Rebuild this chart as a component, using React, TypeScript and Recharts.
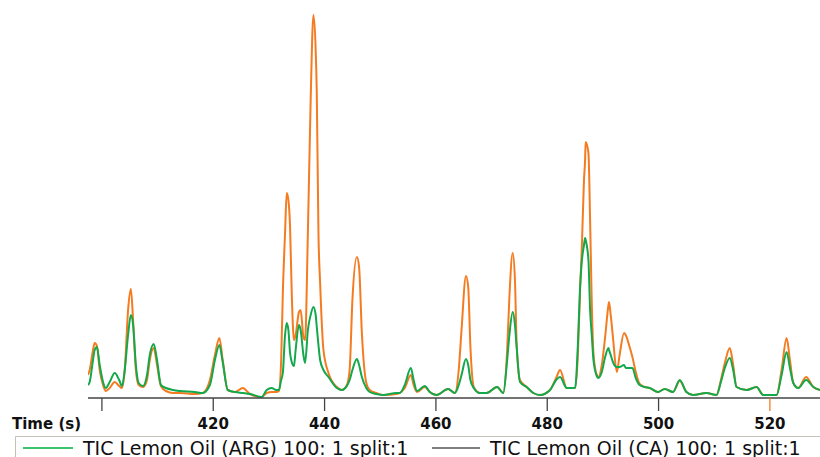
import React from "react";
import { LineChart, Line, XAxis, YAxis } from "recharts";

const times = [397.5, 397.8, 398.4, 398.7, 399.1, 399.6, 400.2, 400.7, 401.4, 402.3, 403.1, 403.6, 404.1, 404.7, 405.2, 405.6, 406.1, 406.6, 407.4, 408.1, 408.6, 409.3, 409.9, 410.6, 411.5, 412.8, 414.0, 416.7, 418.1, 419.4, 420.3, 421.1, 421.7, 422.6, 423.9, 425.3, 426.6, 428.7, 429.6, 430.5, 431.3, 431.8, 432.2, 432.5, 432.9, 433.2, 433.5, 433.8, 434.1, 434.5, 434.8, 435.4, 435.7, 436.2, 436.5, 437.0, 437.5, 438.0, 438.4, 438.6, 438.9, 439.2, 439.8, 440.7, 442.2, 443.1, 444.0, 444.5, 445.0, 445.8, 446.2, 446.7, 447.5, 448.1, 449.3, 450.5, 452.9, 453.5, 454.4, 455.5, 456.0, 456.6, 458.0, 458.9, 460.1, 462.2, 463.4, 464.1, 464.6, 465.4, 465.8, 466.2, 466.8, 467.9, 469.1, 471.0, 472.1, 472.8, 473.2, 473.8, 474.2, 474.5, 475.1, 476.3, 477.5, 478.7, 480.5, 481.6, 482.3, 483.5, 485.0, 485.5, 485.9, 486.2, 486.6, 486.8, 486.9, 487.4, 487.7, 488.0, 488.3, 488.9, 489.2, 489.8, 490.4, 491.0, 491.1, 491.4, 491.8, 492.5, 493.0, 493.8, 494.1, 494.8, 495.3, 495.9, 496.6, 497.5, 498.4, 499.9, 501.1, 502.6, 503.8, 505.0, 506.2, 508.6, 510.4, 511.2, 511.9, 512.8, 513.4, 514.0, 515.8, 517.6, 518.8, 521.2, 522.1, 523.0, 523.6, 524.2, 525.1, 526.5, 527.8, 529.0];

const caValues = [22, 27, 47, 54, 51, 27, 12, 6, 9, 15, 11, 9, 27, 87, 108, 77, 27, 12, 10, 17, 37, 49, 32, 11, 6, 4, 4, 3, 4, 17, 42, 59, 37, 7, 5, 9, 3, 0, 4, 5, 5, 6, 37, 104, 164, 204, 197, 170, 104, 57, 62, 85, 87, 60, 57, 164, 297, 382, 347, 304, 164, 114, 47, 24, 10, 7, 12, 27, 97, 140, 130, 64, 14, 7, 4, 2, 3, 4, 9, 22, 12, 5, 10, 5, 2, 8, 4, 27, 67, 121, 110, 50, 10, 4, 4, 10, 4, 47, 100, 144, 117, 54, 17, 10, 4, 2, 7, 19, 27, 9, 9, 42, 107, 147, 217, 237, 255, 244, 177, 94, 44, 22, 20, 32, 60, 92, 95, 82, 60, 25, 42, 64, 62, 50, 40, 25, 13, 10, 9, 5, 8, 5, 16, 5, 2, 4, 2, 17, 34, 49, 32, 10, 7, 10, 2, 2, 27, 59, 37, 14, 9, 20, 10, 7];

const argValues = [12, 15, 37, 47, 50, 32, 15, 9, 15, 24, 17, 11, 27, 62, 82, 72, 32, 14, 11, 22, 42, 53, 37, 12, 9, 7, 6, 5, 4, 12, 37, 52, 35, 7, 5, 4, 3, 0, 7, 9, 7, 7, 17, 24, 62, 74, 67, 44, 35, 31, 47, 72, 67, 42, 34, 67, 82, 90, 82, 70, 52, 37, 27, 20, 9, 7, 11, 17, 27, 38, 32, 20, 9, 5, 3, 2, 4, 4, 12, 29, 17, 6, 11, 5, 2, 8, 4, 12, 22, 38, 32, 17, 9, 4, 4, 10, 4, 37, 62, 85, 72, 50, 15, 10, 4, 2, 7, 17, 20, 9, 9, 52, 110, 135, 152, 159, 157, 137, 87, 62, 37, 21, 19, 25, 40, 49, 47, 42, 35, 30, 30, 32, 29, 29, 29, 19, 12, 10, 9, 5, 8, 5, 17, 5, 2, 4, 2, 15, 29, 39, 27, 10, 7, 10, 2, 2, 22, 45, 29, 14, 9, 17, 10, 7];

const xTicks = [400, 420, 440, 460, 480, 500, 520];
const seriesNames = ["TIC Lemon Oil (ARG) 100: 1 split:1", "TIC Lemon Oil (CA) 100: 1 split:1"];
const axisTitle = "Time (s)";

const data = times.map((t, i) => ({ t, arg: argValues[i], ca: caValues[i] }));

const ORANGE = "#f47b20";
const GREEN = "#13a84b";

const Tick = (props: any) => {
  const { x, y, payload } = props;
  const v = payload.value;
  return (
    <g>
      <line x1={x} x2={x} y1={y} y2={y + 13} stroke={v === 520 ? ORANGE : "#444"} strokeWidth={1.3} />
      {v !== 400 && (
        <text x={x} y={y + 30.5} textAnchor="middle" fontFamily="DejaVu Sans" fontWeight="bold" fontSize={15} fill="#111">
          {v}
        </text>
      )}
    </g>
  );
};

export default function App() {
  return (
    <div style={{ position: "absolute", left: 0, top: 0, width: 820, height: 457, background: "#fff", overflow: "hidden" }}>
      <LineChart width={820} height={457} data={data} margin={{ top: 12, right: 0, bottom: 19, left: 88 }}>
        <XAxis
          dataKey="t"
          type="number"
          domain={[397.5, 529]}
          allowDataOverflow
          ticks={xTicks}
          tick={<Tick />}
          tickLine={false}
          tickSize={0}
          tickMargin={0}
          height={40}
          axisLine={{ stroke: "#444", strokeWidth: 1.3 }}
        />
        <YAxis hide domain={[-1, 385]} allowDataOverflow />
        <Line dataKey="ca" type="monotone" stroke={ORANGE} strokeWidth={2} dot={false} isAnimationActive={false} />
        <Line dataKey="arg" type="monotone" stroke={GREEN} strokeWidth={2} dot={false} isAnimationActive={false} />
      </LineChart>
      <svg width={820} height={457} style={{ position: "absolute", left: 0, top: 0, pointerEvents: "none" }}>
        <text x={12} y={428.5} fontFamily="DejaVu Sans" fontWeight="bold" fontSize={15} fill="#111">
          {axisTitle}
        </text>
        <line x1={15.5} x2={820} y1={436.5} y2={436.5} stroke="#c5c1b5" strokeWidth={1} />
        <line x1={15.5} x2={15.5} y1={436.5} y2={457} stroke="#c5c1b5" strokeWidth={1} />
        <line x1={23} x2={73} y1={448} y2={448} stroke="#3cc46e" strokeWidth={1.8} />
        <text x={83} y={454.5} fontFamily="DejaVu Sans" fontSize={19} fill="#111">
          {seriesNames[0]}
        </text>
        <line x1={432} x2={480} y1={448} y2={448} stroke="#555" strokeWidth={1.5} />
        <text x={490} y={454.5} fontFamily="DejaVu Sans" fontSize={19} fill="#111">
          {seriesNames[1]}
        </text>
      </svg>
    </div>
  );
}
